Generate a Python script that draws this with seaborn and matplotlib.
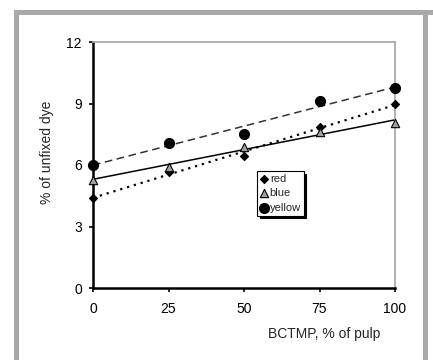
import numpy as np
import pandas as pd
import matplotlib
matplotlib.use("Agg")
import matplotlib.pyplot as plt
import seaborn as sns
from matplotlib.patches import Rectangle

sns.set_style("white")
plt.rcParams['font.family'] = ['Liberation Sans', 'DejaVu Sans']

bctmp = [0, 25, 50, 75, 100]
red = [4.40, 5.67, 6.44, 7.83, 8.98]
blue = [5.27, 5.92, 6.90, 7.63, 8.04]
yellow = [6.02, 7.09, 7.50, 9.10, 9.78]
series_names = ["red", "blue", "yellow"]
x_ticks = [0, 25, 50, 75, 100]
y_ticks = [0, 3, 6, 9, 12]

df = pd.DataFrame({
    "x": bctmp * 3,
    "y": red + blue + yellow,
    "dye": ["red"] * 5 + ["blue"] * 5 + ["yellow"] * 5,
})

fig = plt.figure(figsize=(4.33, 3.6), dpi=100)
ax = fig.add_axes([93/433, 72/360, 302/433, 246/360])

# frame around figure (open at bottom)
gray = "#a9a9a9"
fig.patches.append(Rectangle((14/433, 0), 5/433, 350/360, transform=fig.transFigure, color=gray, lw=0))
fig.patches.append(Rectangle((423/433, 0), 5/433, 350/360, transform=fig.transFigure, color=gray, lw=0))
fig.patches.append(Rectangle((14/433, 345/360), 419/433, 5/360, transform=fig.transFigure, color=gray, lw=0))

# trend lines
xs = np.array([0, 100])
styles = {"red": dict(ls=(0, (1, 2.2)), lw=1.6, color="black"),
          "blue": dict(ls="-", lw=1.1, color="black"),
          "yellow": dict(ls=(0, (5, 3)), lw=1.1, color="#333333")}
for name, vals in zip(series_names, [red, blue, yellow]):
    k, b = np.polyfit(bctmp, vals, 1)
    ax.plot(xs, k * xs + b, zorder=2, **styles[name])

markers = {"red": "D", "blue": "^", "yellow": "o"}
facecol = {"red": "black", "blue": "#a0a0a0", "yellow": "black"}
sizes = {"red": 17, "blue": 36, "yellow": 52}
for name in series_names:
    sub = df[df.dye == name]
    sns.scatterplot(data=sub, x="x", y="y", marker=markers[name], s=sizes[name],
                    color=facecol[name], edgecolor="black", linewidth=0.8,
                    ax=ax, label=name, zorder=3, clip_on=False)

ax.set_xlim(0, 100)
ax.set_ylim(0, 12)
ax.set_xticks(x_ticks)
ax.set_yticks(y_ticks)
ax.tick_params(axis="both", direction="out", length=3, width=1.2, labelsize=10,
               color="black", labelcolor="black")
ax.tick_params(axis="x", pad=7)
ax.tick_params(axis="y", pad=5)
ax.tick_params(bottom=True, left=True)

for s in ["left", "bottom"]:
    ax.spines[s].set_color("black")
    ax.spines[s].set_linewidth(1.8)
for s in ["top", "right"]:
    ax.spines[s].set_color("#aaaaaa")
    ax.spines[s].set_linewidth(1.3)

ax.set_xlabel("BCTMP, % of pulp", fontsize=10)
ax.xaxis.set_label_coords(0.95, -0.185)
ax.xaxis.label.set_ha("right")
ax.xaxis.label.set_va("center")
ax.set_ylabel("% of unfixed dye", fontsize=10)
ax.yaxis.set_label_coords(-46/302, 0.553)
ax.yaxis.label.set_va("center")

leg = ax.legend(loc="upper left", bbox_to_anchor=(0.543, 0.475), frameon=True,
                fancybox=False, shadow={"color": "black", "alpha": 1, "ox": 2, "oy": -2},
                fontsize=8, handletextpad=0.1, borderpad=0.25, labelspacing=0.4,
                borderaxespad=0, handlelength=0.8, markerscale=1.0)
leg.get_frame().set_edgecolor("black")
leg.get_frame().set_linewidth(0.8)

fig.savefig("out.png", dpi=100)
